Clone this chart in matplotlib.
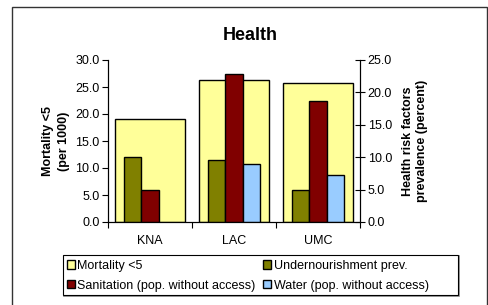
import numpy as np
import matplotlib
matplotlib.use("Agg")
import matplotlib.pyplot as plt
from matplotlib.patches import Rectangle

plt.rcParams["font.family"] = ["Liberation Sans", "DejaVu Sans"]

regions = ["KNA", "LAC", "UMC"]
mortality = [19.0, 26.3, 25.8]            # left axis, per 1000
undernourishment = [10.0, 9.6, 5.0]       # right axis, percent
sanitation = [5.0, 22.9, 18.6]
water = [np.nan, 9.0, 7.3]

W, H = 488, 305
FS = 9
fig = plt.figure(figsize=(W / 100, H / 100), dpi=100)

# outer chart frame (runs off the bottom of the image)
fig.patches.append(Rectangle((12 / W, -0.1), 475 / W, 1.1 - 7 / H, transform=fig.transFigure,
                             fill=False, edgecolor="#333333", linewidth=1.0))

ax = fig.add_axes([108 / W, (H - 222) / H, 252 / W, 162 / H])
ax2 = ax.twinx()

x = np.arange(len(regions))
ax.bar(x, mortality, width=0.833, color="#FFFF99", edgecolor="black", linewidth=1.0,
       label="Mortality <5")

bw = 0.205
series = [
    (undernourishment, -bw, "#808000", "Undernourishment prev."),
    (sanitation, 0.0, "#800000", "Sanitation (pop. without access)"),
    (water, bw, "#99CCFF", "Water (pop. without access)"),
]
for vals, off, col, lab in series:
    vals = np.asarray(vals, dtype=float)
    ok = np.isfinite(vals)
    ax2.bar(x[ok] + off, vals[ok], width=bw, color=col, edgecolor="black",
            linewidth=1.0, label=lab)

ax.set_xlim(-0.5, 2.5)
ax.set_ylim(0, 30)
ax2.set_ylim(0, 25)
ax.set_yticks(np.arange(0, 31, 5))
ax2.set_yticks(np.arange(0, 26, 5))
ax.set_yticklabels([f"{v:.1f}" for v in np.arange(0, 31, 5)])
ax2.set_yticklabels([f"{v:.1f}" for v in np.arange(0, 26, 5)])

ax.set_xticks([-0.5, 0.5, 1.5, 2.5])
ax.set_xticklabels([])
ax.tick_params(axis="x", direction="out", length=4, width=0.8)
for xi, r in zip(x, regions):
    ax.text(xi, -0.12, r, transform=ax.get_xaxis_transform(), ha="center", va="center",
            fontsize=FS)

ax.tick_params(axis="y", direction="out", length=4, width=0.8, labelsize=FS, pad=2)
ax2.tick_params(axis="y", direction="inout", length=7, width=0.8, labelsize=FS, pad=2)

for a in (ax, ax2):
    a.spines["top"].set_visible(False)
    for s in ("left", "right", "bottom"):
        a.spines[s].set_linewidth(0.8)

ax.set_ylabel("Mortality <5\n(per 1000)", fontsize=FS, fontweight="bold", labelpad=4,
              linespacing=1.4)
ax2.set_ylabel("Health risk factors\nprevalence (percent)", fontsize=FS,
               fontweight="bold", labelpad=7, linespacing=1.3)

fig.text(250 / W, 1 - 36 / H, "Health", ha="center", va="center", fontsize=13,
         fontweight="bold")

# legend frame drawn separately (box wider than the entries)
fig.patches.append(Rectangle((64 / W, (H - 296) / H), 395 / W, 40 / H,
                             transform=fig.transFigure, fill=False,
                             edgecolor="#888888", linewidth=1.2))
fig.patches.append(Rectangle((63 / W, (H - 295) / H), 395 / W, 40 / H,
                             transform=fig.transFigure, fill=True, facecolor="white",
                             edgecolor="black", linewidth=0.8))

h1, l1 = ax.get_legend_handles_labels()
h2, l2 = ax2.get_legend_handles_labels()
handles = [h1[0], h2[1], h2[0], h2[2]]
labels = [l1[0], l2[1], l2[0], l2[2]]
leg = fig.legend(handles, labels, ncol=2, loc="upper left",
                 bbox_to_anchor=(63 / W, (H - 256) / H),
                 fontsize=FS, frameon=False, borderaxespad=0,
                 handlelength=0.65, handleheight=0.65,
                 handletextpad=0.2, borderpad=0.3, labelspacing=0.62,
                 columnspacing=0.6)

fig.savefig("out.png", dpi=100)
